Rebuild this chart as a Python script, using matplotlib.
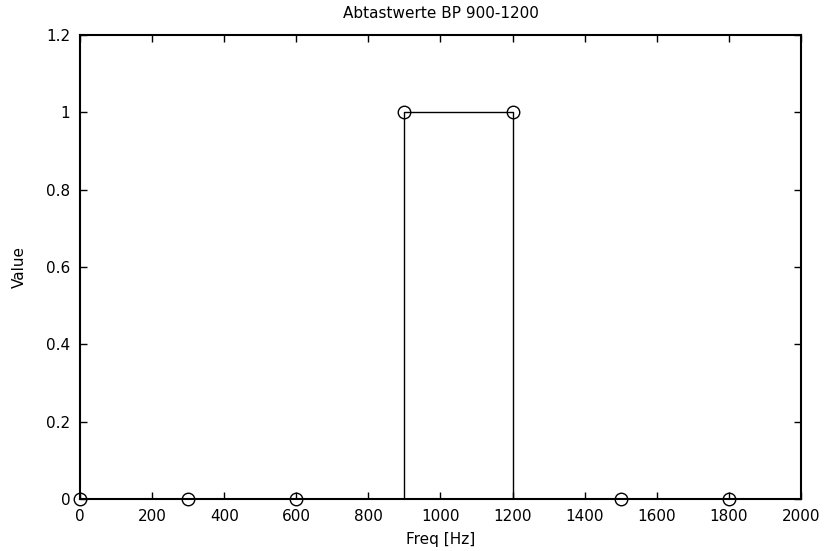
import matplotlib
matplotlib.use('Agg')
import matplotlib.pyplot as plt

plt.rcParams['font.family'] = ['DejaVu Sans']

# sample points of the band pass
freq = [0, 300, 600, 900, 1200, 1500, 1800]
value = [0, 0, 0, 1, 1, 0, 0]

# ideal band pass 900-1200 Hz
ideal_freq = [0, 900, 900, 1200, 1200, 2000]
ideal_value = [0, 0, 1, 1, 0, 0]

xticks = [0, 200, 400, 600, 800, 1000, 1200, 1400, 1600, 1800, 2000]
yticks = [0, 0.2, 0.4, 0.6, 0.8, 1, 1.2]
ytick_labels = ['0', '0.2', '0.4', '0.6', '0.8', '1', '1.2']

fig = plt.figure(figsize=(8.25, 5.51), dpi=100)
ax = fig.add_axes([80 / 825, 52 / 551, 721 / 825, 464 / 551])

ax.plot(ideal_freq, ideal_value, color='black', linewidth=1.0)
ax.plot(freq, value, linestyle='none', marker='o', markersize=9,
        markerfacecolor='none', markeredgecolor='black', markeredgewidth=1.0,
        clip_on=False)

ax.set_xlim(0, 2000)
ax.set_ylim(0, 1.2)
ax.set_xticks(xticks)
ax.set_yticks(yticks)
ax.set_yticklabels(ytick_labels)

ax.tick_params(direction='in', top=True, right=True, length=5, width=1,
               labelsize=11)
ax.tick_params(axis='x', pad=7)
ax.tick_params(axis='y', pad=7)
for s in ax.spines.values():
    s.set_linewidth(1.5)

ax.set_title('Abtastwerte BP 900-1200', fontsize=11, pad=12)
ax.set_xlabel('Freq [Hz]', fontsize=11, labelpad=6)
ax.set_ylabel('Value', fontsize=11, labelpad=14)

fig.savefig('out.png', dpi=100)
